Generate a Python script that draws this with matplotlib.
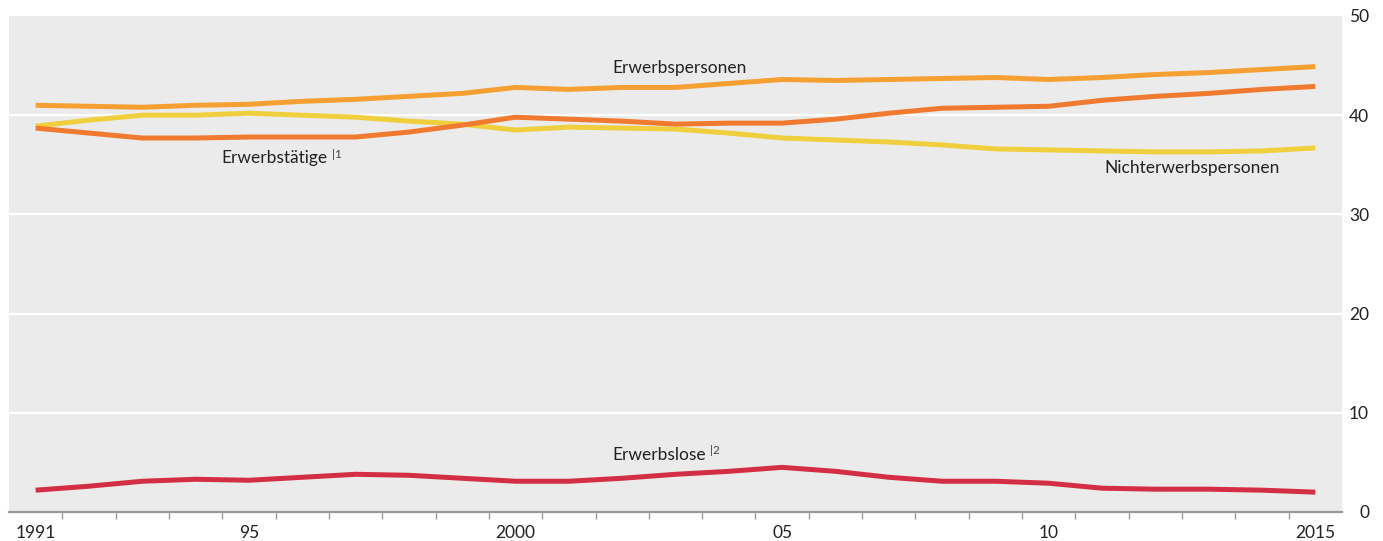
import matplotlib.pyplot as plt
from matplotlib.ticker import FixedLocator

plt.rcParams['font.family'] = ['Lato', 'DejaVu Sans']

years = list(range(1991, 2016))

erwerbspersonen = [41.0, 40.9, 40.8, 41.0, 41.1, 41.4, 41.6, 41.9, 42.2, 42.8,
                   42.6, 42.8, 42.8, 43.2, 43.6, 43.5, 43.6, 43.7, 43.8, 43.6,
                   43.8, 44.1, 44.3, 44.6, 44.9]
erwerbstaetige = [38.7, 38.2, 37.7, 37.7, 37.8, 37.8, 37.8, 38.3, 39.0, 39.8,
                  39.6, 39.4, 39.1, 39.2, 39.2, 39.6, 40.2, 40.7, 40.8, 40.9,
                  41.5, 41.9, 42.2, 42.6, 42.9]
nichterwerbspersonen = [38.9, 39.5, 40.0, 40.0, 40.2, 40.0, 39.8, 39.4, 39.1, 38.5,
                        38.8, 38.7, 38.6, 38.2, 37.7, 37.5, 37.3, 37.0, 36.6, 36.5,
                        36.4, 36.3, 36.3, 36.4, 36.7]
erwerbslose = [2.2, 2.6, 3.1, 3.3, 3.2, 3.5, 3.8, 3.7, 3.4, 3.1,
               3.1, 3.4, 3.8, 4.1, 4.5, 4.1, 3.5, 3.1, 3.1, 2.9,
               2.4, 2.3, 2.3, 2.2, 2.0]

major_years = [1991, 1995, 2000, 2005, 2010, 2015]
major_labels = ["1991", "95", "2000", "05", "10", "2015"]
y_ticks = [0, 10, 20, 30, 40, 50]

fig = plt.figure(figsize=(13.83, 5.41), dpi=100)
ax = fig.add_axes([9 / 1383, 29 / 541, 1333 / 1383, 496 / 541])
ax.set_facecolor("#ebebeb")

lw = 3.6
ax.plot(years, nichterwerbspersonen, color="#f0cf3e", lw=lw, solid_capstyle="butt", zorder=3)
ax.plot(years, erwerbstaetige, color="#f07a30", lw=lw, solid_capstyle="butt", zorder=4)
ax.plot(years, erwerbspersonen, color="#f6a033", lw=lw, solid_capstyle="butt", zorder=5)
ax.plot(years, erwerbslose, color="#d42e45", lw=lw, solid_capstyle="butt", zorder=5)

ax.set_xlim(1990.5, 2015.5)
ax.set_ylim(0, 50)

# grid
for y in [10, 20, 30, 40]:
    ax.axhline(y, color="white", lw=1.6, zorder=1)

for side in ["top", "left", "right"]:
    ax.spines[side].set_visible(False)
ax.spines["bottom"].set_color("#9a9a9a")
ax.spines["bottom"].set_linewidth(1.6)

ax.set_xticks(major_years)
ax.set_xticklabels(major_labels)
ax.xaxis.set_minor_locator(FixedLocator([y + 0.5 for y in range(1991, 2015)]))
ax.tick_params(axis="x", which="major", length=0, pad=9, labelsize=12.5, labelcolor="#222222")
ax.tick_params(axis="x", which="minor", length=5, width=1.0, color="#9a9a9a")

ax.yaxis.tick_right()
ax.set_yticks(y_ticks)
ax.tick_params(axis="y", length=0, pad=19.5, labelsize=12.5, labelcolor="#222222")
for lab in ax.get_yticklabels():
    lab.set_horizontalalignment("right")

txt = dict(fontsize=12.5, color="#222222", va="center")
sup = dict(fontsize=8.5, color="#444444", va="center")
ax.text(2001.82, 44.75, "Erwerbspersonen", **txt)
ax.text(1994.49, 35.65, "Erwerbstätige", **txt)
ax.text(1996.55, 36.05, "|1", **sup)
ax.text(2011.05, 34.65, "Nichterwerbspersonen", **txt)
ax.text(2001.82, 5.75, "Erwerbslose", **txt)
ax.text(2003.65, 6.15, "|2", **sup)

fig.savefig("out.png", dpi=100)
